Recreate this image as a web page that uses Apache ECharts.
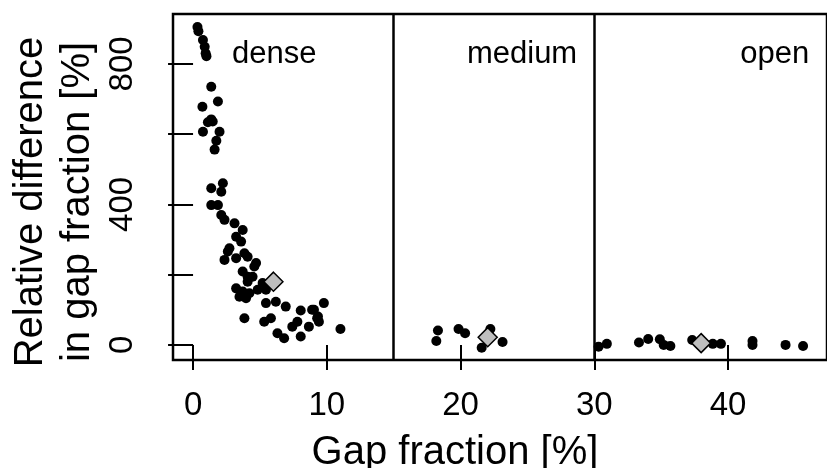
<!DOCTYPE html>
<html>
<head>
<meta charset="utf-8">
<script src="https://cdn.jsdelivr.net/npm/echarts@6/dist/echarts.min.js"></script>
<style>
html,body{margin:0;padding:0;background:#fff;}
#chart{width:827px;height:468px;}
</style>
</head>
<body>
<div id="chart"></div>
<script>
// ---- data ----
const categories = ['dense', 'medium', 'open'];
const categoryLabelX = [6.07, 24.6, 43.5];
const categoryLabelY = 828;
const boundaries = [15, 30];

const densePoints = [
  [0.33,905],[0.40,893],[0.74,868],[0.87,849],[0.94,830],[1.0,822],
  [1.36,735],[1.86,693],[0.70,678],[1.36,642],[1.47,636],[1.11,634],[0.74,607],[1.98,607],[1.74,581],[1.61,556],
  [2.23,460],[1.36,446],[2.11,436],[1.36,398],[1.86,398],[2.11,370],[2.35,356],[3.10,346],[3.71,327],[3.22,308],
  [3.59,294],[2.72,275],[2.60,266],[3.84,261],[2.35,242],[3.22,247],[4.08,251],[4.71,233],[3.71,209],[4.58,223],
  [4.08,194],[4.45,194],[4.08,180],[5.20,176],[3.22,161],[3.71,152],[4.21,147],[4.83,157],[5.45,157],[3.47,137],
  [3.96,133],[5.45,119],[6.19,123],[6.93,109],[8.05,98],[9.04,100],[9.78,119],[3.84,76],[5.32,66],[5.82,76],
  [7.80,66],[7.42,52],[9.28,76],[9.41,66],[8.66,52],[6.31,33],[6.81,19],[8.05,24],[11.02,45],[9.34,81],[8.9,100]
];
const mediumPoints = [
  [18.31,41],[18.19,11],[19.85,45],[20.34,33],[22.23,45],[21.58,-8],[23.14,8]
];
const openPoints = [
  [30.32,-5],[30.94,3],[33.34,7],[34.03,17],[34.9,16],[35.19,0],[35.69,-3],[37.32,14],
  [38.86,3],[39.47,3],[41.83,11],[41.83,0],[44.3,0],[45.61,-3]
];
const meanPoints = [[6.01,180],[22.03,22],[37.99,5]];

const xTicks = [0, 10, 20, 30, 40];
const yTicks = [0, 200, 400, 600, 800];
const yLabels = [0, 400, 800];

const xTitle = 'Gap fraction [%]';
const yTitle = 'Relative difference\nin gap fraction [%]';

// ---- chart ----
const FONT = '"Liberation Sans", Arial, Helvetica, sans-serif';
const chart = echarts.init(document.getElementById('chart'), null, {renderer: 'canvas'});

const pointStyle = {color: '#000', opacity: 1};
const option = {
  animation: false,
  backgroundColor: '#fff',
  grid: {
    left: 173, right: -5, top: 14, bottom: 108,
    show: true, borderColor: '#000', borderWidth: 2.5, backgroundColor: 'transparent'
  },
  xAxis: {
    type: 'value', min: -1.5, max: 47.4,
    axisLine: {show: false},
    splitLine: {show: false},
    axisTick: {show: true, length: 25, customValues: xTicks, lineStyle: {color: '#000', width: 2}},
    axisLabel: {customValues: xTicks, margin: 29, color: '#000', fontSize: 33, fontFamily: FONT}
  },
  yAxis: {
    type: 'value', min: -43, max: 942,
    axisLine: {show: false},
    splitLine: {show: false},
    axisTick: {show: true, length: 25, customValues: yTicks, lineStyle: {color: '#000', width: 2}},
    axisLabel: {customValues: yLabels, rotate: 90, margin: 34, color: '#000', fontSize: 33, fontFamily: FONT}
  },
  graphic: [
    {
      type: 'text', x: 455, y: 453,
      style: {text: xTitle, fill: '#000', font: '40px ' + FONT, textAlign: 'center', textVerticalAlign: 'middle'}
    },
    {
      type: 'text', x: 54, y: 202, rotation: Math.PI / 2,
      style: {text: yTitle, fill: '#000', font: '40px ' + FONT, lineHeight: 47, textAlign: 'center', textVerticalAlign: 'middle'}
    }
  ],
  series: [
    {
      type: 'scatter', name: 'dense', data: densePoints, symbol: 'circle', symbolSize: 10,
      itemStyle: pointStyle, silent: true,
      markLine: {
        silent: true, symbol: 'none', animation: false,
        label: {show: false},
        lineStyle: {color: '#000', width: 2.5, type: 'solid', opacity: 1},
        data: boundaries.map(b => ({xAxis: b}))
      }
    },
    {type: 'scatter', name: 'medium', data: mediumPoints, symbol: 'circle', symbolSize: 10, itemStyle: pointStyle, silent: true},
    {type: 'scatter', name: 'open', data: openPoints, symbol: 'circle', symbolSize: 10, itemStyle: pointStyle, silent: true},
    {
      type: 'scatter', name: 'mean', data: meanPoints, symbol: 'diamond', symbolSize: 19, z: 5,
      itemStyle: {color: '#bebebe', borderColor: '#000', borderWidth: 1.5, opacity: 1}, silent: true
    },
    {
      type: 'scatter', name: 'labels', symbolSize: 0, silent: true,
      itemStyle: {opacity: 1},
      data: categories.map((c, i) => ({value: [categoryLabelX[i], categoryLabelY], name: c})),
      label: {
        show: true, position: 'inside', formatter: p => p.name,
        color: '#000', opacity: 1, fontSize: 31, fontFamily: FONT
      }
    }
  ]
};
chart.setOption(option);
</script>
</body>
</html>
